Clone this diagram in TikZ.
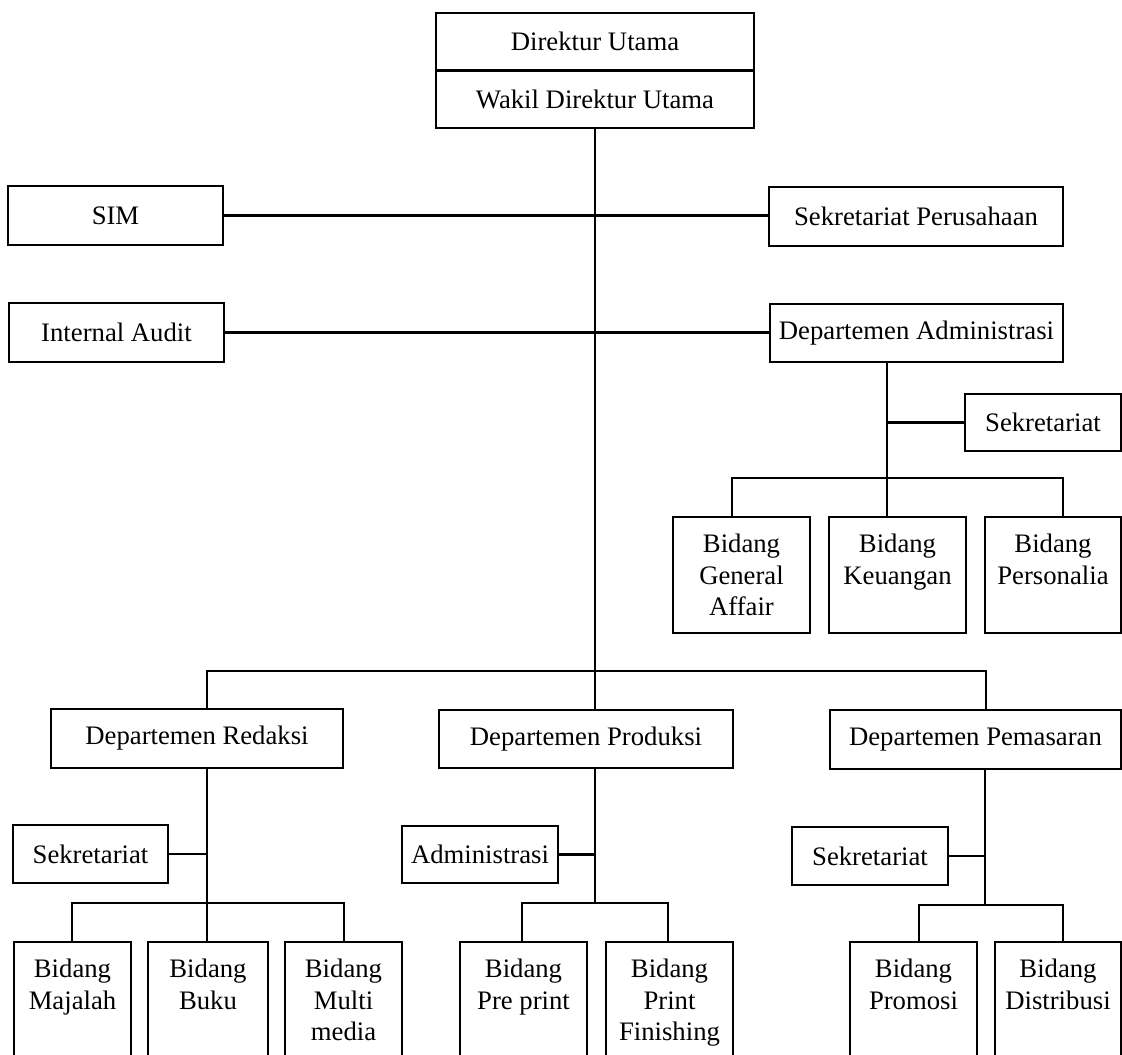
\documentclass[tikz,border=0pt]{standalone}
\usepackage{fontspec}
\setmainfont{Liberation Serif}
\newcommand\fsz{\fontsize{26.7}{31.5}\selectfont}
\tikzset{
  box/.style={draw, line width=2.2pt, inner sep=0pt, font=\fsz},
  conn/.style={line width=2.2pt},
  btext/.style={anchor=north, inner sep=0pt, align=center, font=\fsz, yshift=-18pt},
}
\begin{document}
\begin{tikzpicture}[x=1pt,y=-1pt]
\useasboundingbox (0,0) rectangle (1122,1055);
\clip (0,0) rectangle (1122,1055);
% top
\node[box, minimum width=318, minimum height=57.5] (dir) at (595,41.75) {Direktur Utama};
\node[box, minimum width=318, minimum height=57.5] (wakil) at (595,99.25) {Wakil Direktur Utama};
% staff
\node[box, minimum width=215, minimum height=59] (sim) at (115.5,215.5) {SIM};
\node[box, minimum width=294, minimum height=59] (sekp) at (916,216.5) {Sekretariat Perusahaan};
\node[box, minimum width=215, minimum height=59] (ia) at (116.5,332.5) {Internal Audit};
\node[box, minimum width=293, minimum height=58] (dadm) at (916.5,333) {Departemen Administrasi};
% admin dept
\node[box, minimum width=156, minimum height=57] (sek1) at (1043,422.5) {Sekretariat};
\node[box, minimum width=137, minimum height=116] (ga) at (741.5,575) {};
\node[box, minimum width=137, minimum height=116] (keu) at (897.5,575) {};
\node[box, minimum width=136, minimum height=116] (pers) at (1053,575) {};
\node[btext] (gat) at (ga.north) {Bidang\\General\\Affair};
\node[btext] (keut) at (keu.north) {Bidang\\Keuangan};
\node[btext] (perst) at (pers.north) {Bidang\\Personalia};
% departments
\node[box, minimum width=292, minimum height=59] (dred) at (197,738.5) {Departemen Redaksi};
\node[box, minimum width=294, minimum height=58] (dpro) at (586,739) {Departemen Produksi};
\node[box, minimum width=291, minimum height=59] (dpem) at (975.5,739.5) {Departemen Pemasaran};
\node[box, minimum width=155, minimum height=58] (sek2) at (90.5,854) {Sekretariat};
\node[box, minimum width=156, minimum height=57] (adm) at (480,854.5) {Administrasi};
\node[box, minimum width=156, minimum height=58] (sek3) at (870,856) {Sekretariat};
% bottom boxes
\node[box, minimum width=117, minimum height=138] (maj) at (72.5,1011) {};
\node[box, minimum width=120, minimum height=138] (buku) at (208,1011) {};
\node[box, minimum width=117, minimum height=138] (multi) at (343.5,1011) {};
\node[box, minimum width=127, minimum height=138] (pre) at (523.5,1011) {};
\node[box, minimum width=127, minimum height=138] (pf) at (669.5,1011) {};
\node[box, minimum width=127, minimum height=138] (prom) at (913.5,1011) {};
\node[box, minimum width=126, minimum height=138] (dist) at (1058,1011) {};
\node[btext] (majt) at (maj.north) {Bidang\\Majalah};
\node[btext] (bukut) at (buku.north) {Bidang\\Buku};
\node[btext] (multit) at (multi.north) {Bidang\\Multi\\media};
\node[btext] (pret) at (pre.north) {Bidang\\Pre print};
\node[btext] (pft) at (pf.north) {Bidang\\Print\\Finishing};
\node[btext] (promt) at (prom.north) {Bidang\\Promosi};
\node[btext] (distt) at (dist.north) {Bidang\\Distribusi};
% coordinates
\coordinate (hb) at (595,671);
\coordinate (h1) at (207,671);
\coordinate (h2) at (986,671);
\coordinate (a1) at (887,478);
\coordinate (a2) at (732,478);
\coordinate (a3) at (1063,478);
\coordinate (r0) at (72,903);
\coordinate (r1) at (207,903);
\coordinate (r2) at (344,903);
\coordinate (p0) at (522,903);
\coordinate (p1) at (595,903);
\coordinate (p2) at (668,903);
\coordinate (q0) at (919,905);
\coordinate (q1) at (985,905);
\coordinate (q2) at (1063,905);
% connectors
\draw[conn] (wakil.south) -- (hb);
\draw[conn] (sim.east) -- (sim.east -| sekp.west);
\draw[conn] (ia.east) -- (ia.east -| dadm.west);
\draw[conn] (a1 |- dadm.south) -- (a1);
\draw[conn] (sek1.west) -- (sek1.west -| a1);
\draw[conn] (a2 |- ga.north) -- (a2) -- (a3) -- (a3 |- pers.north);
\draw[conn] (a1) -- (a1 |- keu.north);
\draw[conn] (h1 |- dred.north) -- (h1) -- (h2) -- (h2 |- dpem.north);
\draw[conn] (hb) -- (hb |- dpro.north);
\draw[conn] (r1 |- dred.south) -- (r1);
\draw[conn] (sek2.east) -- (sek2.east -| r1);
\draw[conn] (r0 |- maj.north) -- (r0) -- (r2) -- (r2 |- multi.north);
\draw[conn] (r1) -- (r1 |- buku.north);
\draw[conn] (p1 |- dpro.south) -- (p1);
\draw[conn] (adm.east) -- (adm.east -| p1);
\draw[conn] (p0 |- pre.north) -- (p0) -- (p2) -- (p2 |- pf.north);
\draw[conn] (q1 |- dpem.south) -- (q1);
\draw[conn] (sek3.east) -- (sek3.east -| q1);
\draw[conn] (q0 |- prom.north) -- (q0) -- (q2) -- (q2 |- dist.north);
\end{tikzpicture}
\end{document}
